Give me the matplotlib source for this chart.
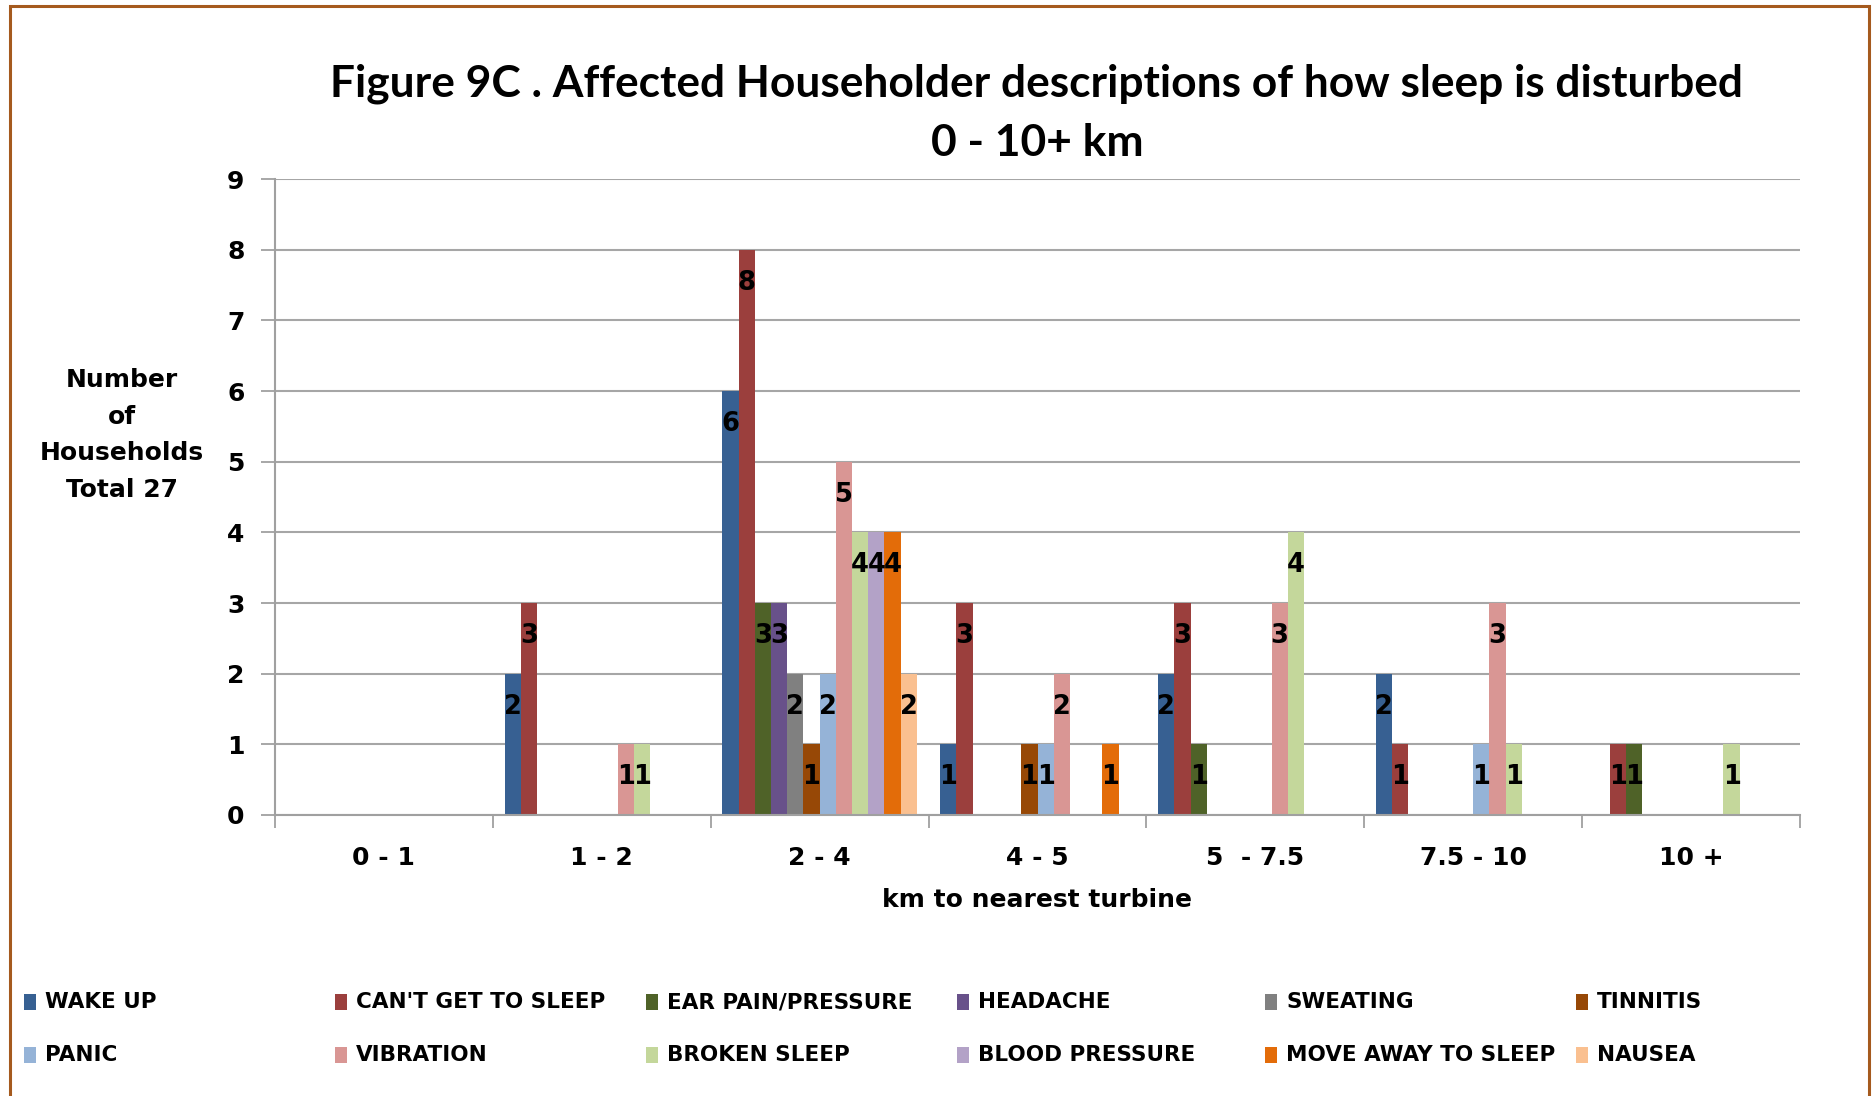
import matplotlib
matplotlib.use("Agg")
import matplotlib.pyplot as plt
from matplotlib.patches import Rectangle
import numpy as np

categories = ["0 - 1", "1 - 2", "2 - 4", "4 - 5", "5  - 7.5", "7.5 - 10", "10 +"]
series_names = ["WAKE UP", "CAN'T GET TO SLEEP", "EAR PAIN/PRESSURE", "HEADACHE",
                "SWEATING", "TINNITIS", "PANIC", "VIBRATION", "BROKEN SLEEP",
                "BLOOD PRESSURE", "MOVE AWAY TO SLEEP", "NAUSEA"]
wake_up        = [0, 2, 6, 1, 2, 2, 0]
cant_sleep     = [0, 3, 8, 3, 3, 1, 1]
ear_pain       = [0, 0, 3, 0, 1, 0, 1]
headache       = [0, 0, 3, 0, 0, 0, 0]
sweating       = [0, 0, 2, 0, 0, 0, 0]
tinnitis       = [0, 0, 1, 1, 0, 0, 0]
panic          = [0, 0, 2, 1, 0, 1, 0]
vibration      = [0, 1, 5, 2, 3, 3, 0]
broken_sleep   = [0, 1, 4, 0, 4, 1, 1]
blood_pressure = [0, 0, 4, 0, 0, 0, 0]
move_away      = [0, 0, 4, 1, 0, 0, 0]
nausea         = [0, 0, 2, 0, 0, 0, 0]
series_values = [wake_up, cant_sleep, ear_pain, headache, sweating, tinnitis,
                 panic, vibration, broken_sleep, blood_pressure, move_away, nausea]
colors = ["#376092", "#9B3F3D", "#4F6228", "#68518A", "#808080", "#974806",
          "#95B3D7", "#D99694", "#C4D79B", "#B3A2C7", "#E36C09", "#FAC090"]
y_ticks = list(range(0, 10))

W, H = 1875, 1096
fig = plt.figure(figsize=(W / 100, H / 100), dpi=100)
ax = fig.add_axes([275 / W, 1 - 815 / H, (1800 - 275) / W, (815 - 179) / H])

bold = dict(family="DejaVu Sans", fontweight="bold")
n = len(series_names)
bw = 0.0744
x = np.arange(len(categories))
for i, (vals, col) in enumerate(zip(series_values, colors)):
    pos = x + (i - (n - 1) / 2) * bw
    bars = ax.bar(pos, vals, width=bw, color=col, zorder=3, linewidth=0)
    for b, v in zip(bars, vals):
        if v:
            ax.annotate(str(v), (b.get_x() + b.get_width() / 2, v),
                        xytext=(0, -33), textcoords="offset pixels",
                        ha="center", va="center", fontsize=18.5, color="black",
                        zorder=5, **bold)

ax.set_xlim(-0.5, len(categories) - 0.5)
ax.set_ylim(0, 9)
ax.set_yticks(y_ticks)
ax.set_yticklabels([str(t) for t in y_ticks], fontsize=18, **bold)
ax.set_xticks(x)
ax.set_xticklabels(categories, fontsize=18, **bold)
ax.set_xticks(np.arange(-0.5, len(categories)), minor=True)
ax.tick_params(axis="x", which="major", length=0, pad=22)
ax.tick_params(axis="x", which="minor", length=9, width=1.3, color="#A0A0A0", direction="out")
ax.tick_params(axis="y", which="major", length=10, width=1.3, color="#A0A0A0", pad=12)
ax.grid(axis="y", color="#A6A6A6", linewidth=1.5, zorder=0)
for s in ["top", "right"]:
    ax.spines[s].set_visible(False)
for s in ["left", "bottom"]:
    ax.spines[s].set_color("#A0A0A0")
    ax.spines[s].set_linewidth(1.5)
ax.spines["bottom"].set_zorder(4)

fig.text(1037 / W, 1 - 900 / H, "km to nearest turbine", ha="center", va="center",
         fontsize=18, **bold)
fig.text(122 / W, 1 - 435 / H, "Number\nof\nHouseholds\nTotal 27", ha="center",
         va="center", fontsize=18, linespacing=1.66, **bold)

title_font = dict(family=["Lato", "DejaVu Sans"], fontweight="bold")
t1 = fig.text(1037 / W, 1 - 84 / H,
              "Figure 9C . Affected Householder descriptions of how sleep is disturbed",
              ha="center", va="center", fontsize=32, **title_font)
# fit the first title line to the reference width (~1413 px)
renderer = fig.canvas.get_renderer()
w_now = t1.get_window_extent(renderer).width
tsize = 32 * 1413 / w_now
t1.set_fontsize(tsize)
fig.text(1037 / W, 1 - 143 / H, "0 - 10+ km", ha="center", va="center",
         fontsize=tsize, **title_font)

# legend
col_x = [24, 335, 646, 957, 1265, 1576]
row_y = [1002, 1055]
for k, (name, col) in enumerate(zip(series_names, colors)):
    r, c = divmod(k, 6)
    x0, yc = col_x[c], row_y[r]
    fig.patches.append(Rectangle((x0 / W, 1 - (yc + 8) / H), 12 / W, 16 / H,
                                 transform=fig.transFigure, facecolor=col,
                                 edgecolor="none"))
    fig.text((x0 + 21) / W, 1 - yc / H, name, ha="left", va="center",
             fontsize=15.5, **bold)

# outer frame
fig.patches.append(Rectangle((10 / W, -0.05), (1869 - 10) / W, 1.05 - 6 / H,
                             transform=fig.transFigure, facecolor="none",
                             edgecolor="#A55A1E", linewidth=2.2))

fig.savefig("out.png", dpi=100)
